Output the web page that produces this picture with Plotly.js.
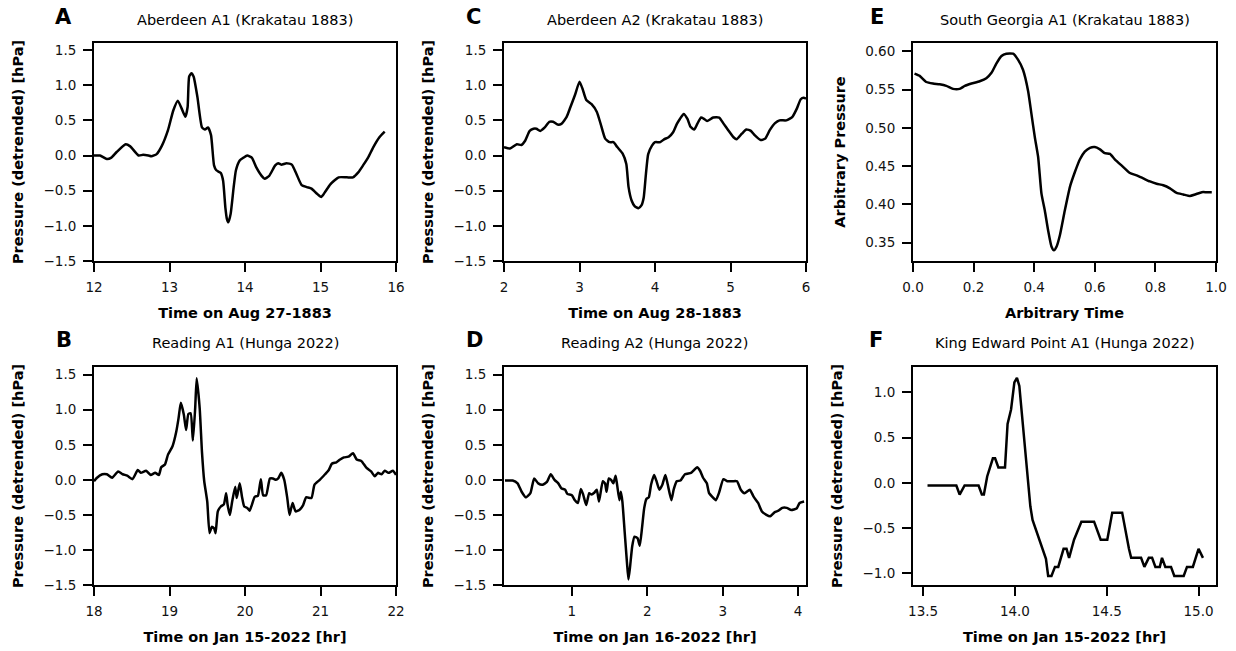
<!DOCTYPE html>
<html>
<head>
<meta charset="utf-8">
<script src="https://cdn.plot.ly/plotly-3.0.1.min.js"></script>
<style>html,body{margin:0;padding:0;background:#fff;}#chart{width:1236px;height:651px;}</style>
</head>
<body>
<div id="chart"></div>
<script>
// ---- Panel A: Aberdeen A1 (Krakatau 1883) ----
const aX = [12.0,12.08,12.17,12.23,12.30,12.42,12.48,12.59,12.65,12.72,12.76,12.83,12.90,12.98,13.05,13.11,13.16,13.21,13.24,13.26,13.29,13.32,13.37,13.43,13.47,13.51,13.55,13.59,13.62,13.68,13.71,13.74,13.76,13.78,13.81,13.85,13.88,13.93,13.98,14.03,14.09,14.15,14.22,14.26,14.32,14.40,14.44,14.48,14.55,14.62,14.68,14.75,14.82,14.88,14.95,15.01,15.06,15.13,15.24,15.35,15.43,15.50,15.57,15.63,15.70,15.78,15.85];
const aY = [0.0,0.0,-0.05,-0.03,0.05,0.16,0.13,0.0,0.01,0.0,-0.01,0.02,0.14,0.36,0.64,0.78,0.67,0.55,0.69,1.12,1.17,1.12,0.83,0.40,0.37,0.40,0.29,-0.14,-0.21,-0.25,-0.36,-0.74,-0.90,-0.95,-0.83,-0.45,-0.21,-0.07,-0.03,0.0,-0.03,-0.17,-0.29,-0.33,-0.29,-0.14,-0.11,-0.13,-0.11,-0.13,-0.26,-0.42,-0.45,-0.47,-0.54,-0.59,-0.52,-0.41,-0.31,-0.31,-0.31,-0.24,-0.13,-0.03,0.12,0.26,0.34];

// ---- Panel C: Aberdeen A2 (Krakatau 1883) ----
const cX = [2.0,2.08,2.17,2.23,2.28,2.34,2.39,2.43,2.48,2.54,2.60,2.65,2.71,2.76,2.83,2.88,2.94,3.00,3.04,3.09,3.16,3.23,3.28,3.34,3.40,3.45,3.50,3.57,3.62,3.65,3.69,3.73,3.78,3.82,3.85,3.88,3.91,3.96,4.00,4.07,4.12,4.18,4.24,4.29,4.33,4.38,4.43,4.47,4.52,4.56,4.61,4.65,4.69,4.77,4.85,4.91,4.97,5.04,5.08,5.15,5.21,5.27,5.32,5.40,5.46,5.52,5.59,5.65,5.74,5.82,5.88,5.93,5.97,6.0];
const cY = [0.12,0.10,0.16,0.15,0.21,0.35,0.38,0.38,0.35,0.40,0.48,0.48,0.44,0.45,0.55,0.69,0.86,1.05,0.95,0.79,0.73,0.62,0.45,0.24,0.19,0.19,0.12,0.03,-0.12,-0.45,-0.64,-0.72,-0.75,-0.71,-0.60,-0.26,0.02,0.14,0.19,0.19,0.23,0.26,0.33,0.45,0.52,0.59,0.52,0.41,0.37,0.45,0.54,0.52,0.49,0.54,0.54,0.45,0.36,0.26,0.23,0.31,0.37,0.35,0.29,0.22,0.24,0.36,0.46,0.50,0.50,0.55,0.67,0.80,0.82,0.81];

// ---- Panel E: South Georgia A1 (Krakatau 1883) ----
const eX = [0.005,0.022,0.044,0.066,0.088,0.110,0.132,0.154,0.171,0.193,0.220,0.242,0.259,0.275,0.292,0.308,0.330,0.347,0.363,0.380,0.391,0.402,0.413,0.424,0.435,0.446,0.457,0.465,0.474,0.485,0.501,0.518,0.534,0.551,0.567,0.584,0.600,0.617,0.633,0.650,0.666,0.688,0.716,0.738,0.760,0.782,0.804,0.826,0.848,0.870,0.892,0.914,0.931,0.953,0.969,0.986];
const eY = [0.571,0.568,0.560,0.558,0.557,0.555,0.551,0.551,0.555,0.558,0.561,0.565,0.572,0.584,0.594,0.597,0.597,0.589,0.576,0.548,0.518,0.488,0.462,0.414,0.392,0.366,0.345,0.340,0.345,0.360,0.392,0.423,0.442,0.459,0.469,0.474,0.475,0.472,0.467,0.466,0.459,0.451,0.441,0.438,0.434,0.430,0.427,0.425,0.421,0.415,0.413,0.411,0.413,0.416,0.416,0.416];

// ---- Panel B: Reading A1 (Hunga 2022) ----
const bX = [18.0,18.04,18.11,18.17,18.24,18.32,18.38,18.44,18.51,18.58,18.62,18.69,18.75,18.81,18.86,18.89,18.94,18.98,19.04,19.09,19.12,19.15,19.19,19.22,19.25,19.28,19.31,19.34,19.36,19.40,19.43,19.46,19.50,19.53,19.56,19.59,19.61,19.64,19.68,19.72,19.75,19.77,19.80,19.83,19.87,19.89,19.93,19.96,19.99,20.03,20.06,20.09,20.13,20.17,20.21,20.24,20.28,20.33,20.37,20.41,20.44,20.48,20.52,20.56,20.59,20.63,20.67,20.72,20.77,20.81,20.88,20.92,20.99,21.06,21.11,21.15,21.21,21.26,21.31,21.37,21.43,21.48,21.54,21.61,21.67,21.72,21.76,21.81,21.85,21.90,21.96,22.0];
const bY = [-0.02,0.03,0.08,0.08,0.03,0.12,0.08,0.06,0.01,0.14,0.10,0.13,0.07,0.10,0.07,0.18,0.22,0.36,0.48,0.69,0.88,1.10,0.93,0.71,0.94,0.95,0.56,1.02,1.45,1.02,0.40,-0.02,-0.31,-0.76,-0.67,-0.69,-0.76,-0.45,-0.38,-0.35,-0.19,-0.36,-0.50,-0.31,-0.10,-0.26,-0.05,-0.24,-0.38,-0.40,-0.44,-0.36,-0.24,-0.23,0.01,-0.22,-0.22,0.02,0.02,0.0,0.02,0.10,0.0,-0.26,-0.50,-0.33,-0.45,-0.43,-0.36,-0.25,-0.26,-0.07,0.0,0.08,0.14,0.23,0.25,0.29,0.32,0.33,0.38,0.29,0.27,0.17,0.12,0.05,0.10,0.08,0.13,0.10,0.13,0.07];

// ---- Panel D: Reading A2 (Hunga 2022) ----
const dX = [0.113,0.215,0.28,0.334,0.39,0.45,0.50,0.554,0.61,0.67,0.72,0.77,0.82,0.86,0.91,0.94,1.00,1.04,1.08,1.12,1.15,1.19,1.23,1.26,1.30,1.33,1.36,1.41,1.44,1.46,1.49,1.52,1.55,1.58,1.60,1.63,1.65,1.67,1.70,1.73,1.75,1.77,1.80,1.83,1.87,1.90,1.93,1.96,1.99,2.02,2.05,2.09,2.12,2.16,2.20,2.24,2.27,2.32,2.35,2.39,2.44,2.50,2.58,2.62,2.66,2.70,2.74,2.79,2.82,2.86,2.91,2.95,3.01,3.06,3.13,3.19,3.24,3.29,3.36,3.41,3.47,3.52,3.58,3.63,3.69,3.74,3.79,3.85,3.91,3.98,4.02,4.08];
const dY = [-0.01,-0.01,-0.05,-0.17,-0.25,-0.19,0.02,-0.05,-0.07,-0.03,0.08,0.0,-0.05,-0.12,-0.14,-0.20,-0.22,-0.29,-0.33,-0.13,-0.21,-0.36,-0.19,-0.21,-0.18,-0.14,-0.31,-0.02,-0.05,-0.17,0.02,0.0,-0.05,0.06,-0.07,-0.29,-0.17,-0.31,-0.74,-1.17,-1.42,-1.26,-0.95,-0.81,-0.83,-0.94,-0.69,-0.40,-0.27,-0.25,-0.07,0.07,-0.01,-0.14,-0.07,0.07,-0.06,-0.29,-0.14,-0.02,-0.01,0.08,0.10,0.14,0.18,0.13,0.03,-0.05,-0.19,-0.24,-0.29,-0.19,0.01,-0.02,-0.02,-0.02,-0.14,-0.19,-0.14,-0.24,-0.33,-0.45,-0.50,-0.52,-0.46,-0.44,-0.40,-0.40,-0.43,-0.41,-0.33,-0.31];

// ---- Panel F: King Edward Point A1 (Hunga 2022) ----
const fX = [13.524,13.681,13.699,13.726,13.802,13.820,13.831,13.849,13.880,13.892,13.910,13.946,13.960,13.979,13.997,14.011,14.024,14.037,14.055,14.069,14.084,14.096,14.114,14.133,14.156,14.169,14.181,14.199,14.218,14.236,14.265,14.281,14.295,14.322,14.362,14.431,14.467,14.503,14.530,14.584,14.621,14.633,14.687,14.705,14.729,14.747,14.765,14.789,14.801,14.819,14.850,14.868,14.919,14.937,14.969,15.000,15.024];
const fY = [-0.03,-0.03,-0.13,-0.03,-0.03,-0.13,-0.13,0.07,0.27,0.27,0.17,0.17,0.65,0.81,1.11,1.16,1.07,0.77,0.33,0.0,-0.26,-0.41,-0.52,-0.63,-0.77,-0.84,-1.03,-1.03,-0.93,-0.93,-0.73,-0.73,-0.83,-0.63,-0.43,-0.43,-0.63,-0.63,-0.33,-0.33,-0.73,-0.83,-0.83,-0.93,-0.83,-0.83,-0.93,-0.93,-0.83,-0.93,-0.93,-1.03,-1.03,-0.93,-0.93,-0.73,-0.83];

const panelLetters = ['A','C','E','B','D','F'];
const panelTitles = ['Aberdeen A1 (Krakatau 1883)','Aberdeen A2 (Krakatau 1883)','South Georgia A1 (Krakatau 1883)','Reading A1 (Hunga 2022)','Reading A2 (Hunga 2022)','King Edward Point A1 (Hunga 2022)'];
const xLabels = ['Time on Aug 27-1883','Time on Aug 28-1883','Arbitrary Time','Time on Jan 15-2022 [hr]','Time on Jan 16-2022 [hr]','Time on Jan 15-2022 [hr]'];
const yLabels = ['Pressure (detrended) [hPa]','Pressure (detrended) [hPa]','Arbitrary Pressure','Pressure (detrended) [hPa]','Pressure (detrended) [hPa]','Pressure (detrended) [hPa]'];

const W = 1236, H = 651;
const FONT = 'DejaVu Sans, Liberation Sans, sans-serif';
// pixel boxes [left, right, top, bottom]
const colPx = [[94,396],[504,806],[913,1216]];
const rowPx = [[43,261],[367,585]];
const xd = c => [colPx[c][0]/W, colPx[c][1]/W];
const yd = r => [1-rowPx[r][1]/H, 1-rowPx[r][0]/H];

const series = [[aX,aY],[cX,cY],[eX,eY],[bX,bY],[dX,dY],[fX,fY]];
const traces = series.map((s,i)=>({
  x:s[0], y:s[1], type:'scatter', mode:'lines',
  line: i===5 ? {color:'#000', width:2.5, shape:'linear'} : {color:'#000', width:2.5, shape:'spline', smoothing:0.5},
  xaxis: i===0?'x':'x'+(i+1), yaxis: i===0?'y':'y'+(i+1),
  showlegend:false, hoverinfo:'skip'
}));

function xa(i, col, row, opts){
  return Object.assign({
    domain:xd(col), anchor: i===0?'y':'y'+(i+1),
    showline:true, mirror:true, linecolor:'#000', linewidth:2,
    ticks:'outside', ticklen:9, tickwidth:2, tickcolor:'#000',
    showgrid:false, zeroline:false,
    tickfont:{family:FONT,size:13.5,color:'#111'},
    ticklabelstandoff:4,
    title:{text:xLabels[i], font:{family:FONT,size:14.5,color:'#000',weight:'bold'}, standoff:14}
  }, opts);
}
function ya(i, col, row, opts){
  return Object.assign({
    domain:yd(row), anchor: i===0?'x':'x'+(i+1),
    showline:true, mirror:true, linecolor:'#000', linewidth:2,
    ticks:'outside', ticklen:9, tickwidth:2, tickcolor:'#000',
    showgrid:false, zeroline:false,
    tickfont:{family:FONT,size:13.5,color:'#111'},
    ticklabelstandoff:4,
    title:{text:yLabels[i], font:{family:FONT,size:14.5,color:'#000',weight:'bold'}, standoff:16}
  }, opts);
}
const pYaxis = {range:[-1.5,1.6], tick0:0, dtick:0.5, tickformat:'.1f'};

const layout = {
  width:W, height:H, margin:{l:0,r:0,t:0,b:0},
  paper_bgcolor:'#fff', plot_bgcolor:'#fff',
  font:{family:FONT, color:'#000'},
  xaxis:  xa(0,0,0,{range:[12,16], tick0:12, dtick:1}),
  yaxis:  ya(0,0,0,pYaxis),
  xaxis2: xa(1,1,0,{range:[2,6], tick0:2, dtick:1}),
  yaxis2: ya(1,1,0,pYaxis),
  xaxis3: xa(2,2,0,{range:[0,1], tick0:0, dtick:0.2, tickformat:'.1f'}),
  yaxis3: ya(2,2,0,{range:[0.326,0.611], tick0:0.35, dtick:0.05, tickformat:'.2f'}),
  xaxis4: xa(3,0,1,{range:[18,22], tick0:18, dtick:1}),
  yaxis4: ya(3,0,1,{range:[-1.5,1.61], tick0:0, dtick:0.5, tickformat:'.1f'}),
  xaxis5: xa(4,1,1,{range:[0.1,4.105], tickmode:'array', tickvals:[1,2,3,4]}),
  yaxis5: ya(4,1,1,{range:[-1.5,1.61], tick0:0, dtick:0.5, tickformat:'.1f'}),
  xaxis6: xa(5,2,1,{range:[13.445,15.095], tick0:13.5, dtick:0.5, tickformat:'.1f'}),
  yaxis6: ya(5,2,1,{range:[-1.13,1.28], tick0:0, dtick:0.5, tickformat:'.1f'}),
  annotations:[]
};

const letterPos = [[63,17.5],[473,17.5],[877,17.5],[64,340],[474,340],[876,340]];
const cols = [0,1,2,0,1,2], rows=[0,0,0,1,1,1];
const titleY = [20.5, 342.5];
for (let i=0;i<6;i++){
  layout.annotations.push({
    text:panelLetters[i], xref:'paper', yref:'paper', showarrow:false,
    x:letterPos[i][0]/W, y:1-letterPos[i][1]/H, xanchor:'center', yanchor:'middle',
    font:{family:FONT, size:21, color:'#000', weight:'bold'}
  });
  const c = colPx[cols[i]];
  layout.annotations.push({
    text:panelTitles[i], xref:'paper', yref:'paper', showarrow:false,
    x:(c[0]+c[1])/2/W, y:1-titleY[rows[i]]/H, xanchor:'center', yanchor:'middle',
    font:{family:FONT, size:14.5, color:'#000'}
  });
}

Plotly.newPlot('chart', traces, layout, {staticPlot:true, displayModeBar:false});
</script>
</body>
</html>
